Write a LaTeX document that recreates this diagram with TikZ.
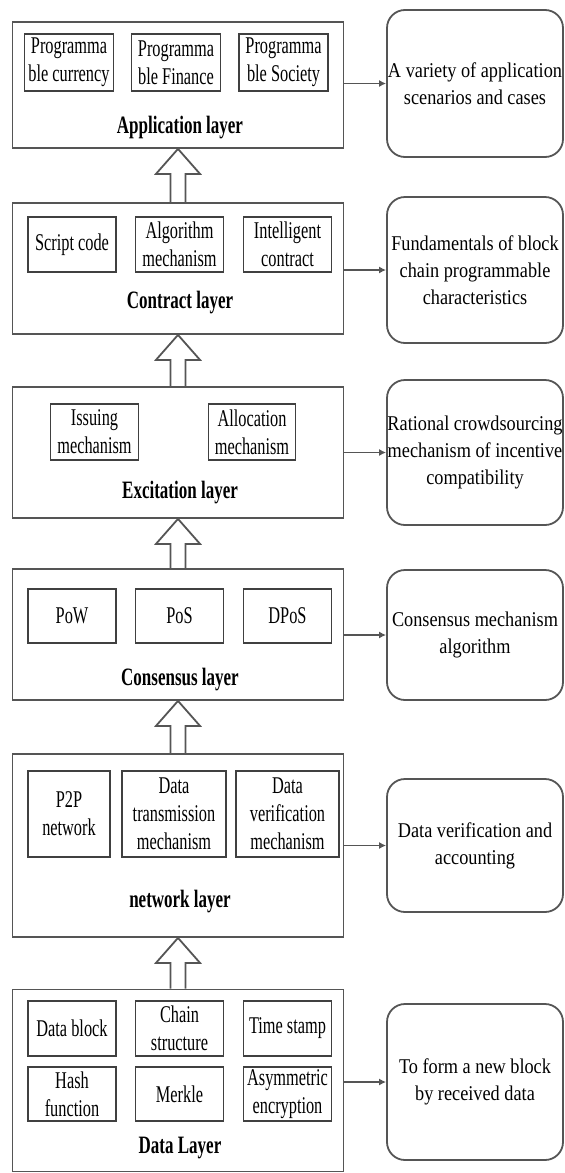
\documentclass[tikz,border=0pt]{standalone}
\usepackage{fontspec}
\setmainfont{Liberation Serif}
\newfontfamily\boxfont{Liberation Serif}[FakeStretch=0.68]
\newfontfamily\notefont{Liberation Serif}[FakeStretch=0.87]
\usepackage{tikz}
\usetikzlibrary{arrows.meta,calc}
\definecolor{edge}{HTML}{555555}

\begin{document}
\begin{tikzpicture}[
          x=0.5pt, y=-0.5pt,
          layer/.style={draw=edge,line width=0.9pt,minimum width=165.5pt,inner sep=0pt},
          part/.style={draw=black!75,line width=0.9pt,inner sep=0pt,align=center,
                       minimum width=44pt,font=\boxfont\fontsize{12}{14}\selectfont},
          title/.style={inner sep=0pt,font=\boxfont\bfseries\fontsize{12.5}{15}\selectfont},
          note/.style={draw=edge,line width=0.9pt,rounded corners=9pt,minimum width=88pt,
                       inner sep=0pt,align=center,font=\notefont\fontsize{10.5}{13.5}\selectfont},
          link/.style={-{Latex[length=3.5pt,width=3.5pt]},draw=edge,line width=0.9pt},
          hollow/.style={draw=edge,line width=0.9pt},
      ]
        \useasboundingbox (0,0) rectangle (565,1173);

        % layers
        \node[layer,minimum height=63pt] (app) at (178,85) {};
        \node[layer,minimum height=65.5pt] (con) at (178,268.5) {};
        \node[layer,minimum height=65.5pt] (exc) at (178,452.5) {};
        \node[layer,minimum height=65.5pt] (cns) at (178,634.5) {};
        \node[layer,minimum height=91.5pt] (net) at (178,845.5) {};
        \node[layer,minimum height=91pt] (dat) at (178,1080.5) {};

        \node[title] (appT) at (180,128) {Application layer};
        \node[title] (conT) at (180,303) {Contract layer};
        \node[title] (excT) at (180,493) {Excitation layer};
        \node[title] (cnsT) at (180,680) {Consensus layer};
        \node[title] (netT) at (180,902) {network layer};
        \node[title] (datT) at (180,1148) {Data Layer};

        % parts of each layer
        \node[part,minimum width=44.5pt,minimum height=28.5pt] (app1) at (69,62.5) {Programma\\ble currency};
        \node[part,minimum width=44.5pt,minimum height=28.5pt] (app2) at (176,62.5) {Programma\\ble Finance};
        \node[part,minimum width=44.5pt,minimum height=28.5pt] (app3) at (283.5,62.5) {Programma\\ble Society};

        \node[part,minimum height=27.5pt] (con1) at (72,244.5) {Script code};
        \node[part,minimum height=27.5pt] (con2) at (179.5,244.5) {Algorithm\\mechanism};
        \node[part,minimum height=27.5pt] (con3) at (287.5,244.5) {Intelligent\\contract};

        \node[part,minimum height=28pt] (exc1) at (94.5,432) {Issuing\\mechanism};
        \node[part,minimum width=43.5pt,minimum height=28pt] (exc2) at (252,432) {Allocation\\mechanism};

        \node[part,minimum height=27pt] (cns1) at (72,616) {PoW};
        \node[part,minimum height=27pt] (cns2) at (179.5,616) {PoS};
        \node[part,minimum height=27pt] (cns3) at (287.5,616) {DPoS};

        \node[part,minimum width=41pt,minimum height=43pt] (net1) at (69,814) {P2P\\network};
        \node[part,minimum width=52pt,minimum height=43pt] (net2) at (174,814) {Data\\transmission\\mechanism};
        \node[part,minimum width=51.75pt,minimum height=43pt] (net3) at (287.5,814) {Data\\verification\\mechanism};

        \node[part,minimum height=27.5pt] (dat1) at (72,1028.5) {Data block};
        \node[part,minimum height=27.5pt] (dat2) at (179.5,1028.5) {Chain\\structure};
        \node[part,minimum height=27.5pt] (dat3) at (287.5,1028.5) {Time stamp};
        \node[part,minimum height=27pt] (dat4) at (72,1094) {Hash\\function};
        \node[part,minimum height=27pt] (dat5) at (179.5,1094) {Merkle};
        \node[part,minimum height=27pt] (dat6) at (287.5,1094) {Asymmetric\\encryption};

        % notes on the right
        \node[note,minimum height=73.5pt] (r1) at (475,83.5) {A variety of application\\scenarios and cases};
        \node[note,minimum height=73pt] (r2) at (475,270) {Fundamentals of block\\chain programmable\\characteristics};
        \node[note,minimum height=72.5pt] (r3) at (475,452.5) {Rational crowdsourcing\\mechanism of incentive\\compatibility};
        \node[note,minimum height=65pt] (r4) at (475,635) {Consensus mechanism\\algorithm};
        \node[note,minimum height=66.5pt] (r5) at (475,845.5) {Data verification and\\accounting};
        \node[note,minimum height=78pt] (r6) at (475,1082) {To form a new block\\by received data};

        \foreach \lyr/\nt in {app/r1,con/r2,exc/r3,cns/r4,net/r5,dat/r6}
          \draw[link] (\nt.west -| \lyr.east) -- (\nt.west);

        % hollow arrows between layers
        \foreach \srcl/\dstl in {dat/net,net/cns,cns/exc,exc/con,con/app}
          \draw[hollow] ($(\srcl.north)+(-7.5,0)$) -- ($(\dstl.south)+(-7.5,25)$)
            -- ($(\dstl.south)+(-22,25)$) -- (\dstl.south) -- ($(\dstl.south)+(22,25)$)
            -- ($(\dstl.south)+(7.5,25)$) -- ($(\srcl.north)+(7.5,0)$);
      \end{tikzpicture}
\end{document}
